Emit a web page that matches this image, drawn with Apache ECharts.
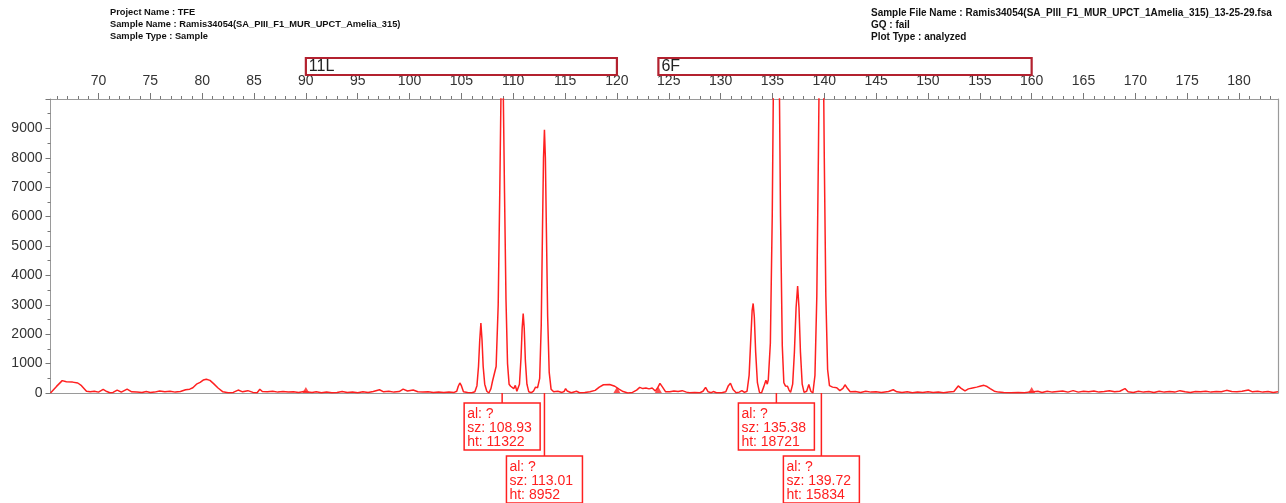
<!DOCTYPE html>
<html>
<head>
<meta charset="utf-8">
<script src="https://cdn.jsdelivr.net/npm/echarts@6.0.0/dist/echarts.min.js"></script>
<style>
  html, body { margin: 0; padding: 0; background: #fff; }
  #chart { width: 1286px; height: 503px; }
</style>
</head>
<body>
<div id="chart"></div>
<script>
// header texts
const headerLeft = ['Project Name : TFE', 'Sample Name : Ramis34054(SA_PIII_F1_MUR_UPCT_Amelia_315)', 'Sample Type : Sample']
const headerRight = ['Sample File Name : Ramis34054(SA_PIII_F1_MUR_UPCT_1Amelia_315)_13-25-29.fsa', 'GQ : fail', 'Plot Type : analyzed']

// axis
const sizeMin = 65.37
const sizeMax = 183.76
const sizeTicks = [70, 75, 80, 85, 90, 95, 100, 105, 110, 115, 120, 125, 130, 135, 140, 145, 150, 155, 160, 165, 170, 175, 180]
const heightMax = 10000

// bins
const binName = ['11L', '6F']
const binStart = [90, 124]
const binEnd = [120, 160]

// called peaks
const calledSize = [108.93, 113.01, 135.38, 139.72]
const calledHeight = [11322, 8952, 18721, 15834]
const calledAllele = ['?', '?', '?', '?']

// trace [size, height]
const traceLeft = [
  [65.37, 0], [65.5, 0], [65.95, 225], [66.5, 420], [66.9, 380], [67.5, 370], [68.0, 340], [68.36, 250], [68.84, 60],
  [69.2, 40], [69.6, 60], [70.0, 30], [70.45, 120], [70.8, 50], [71.1, 10], [71.4, 20], [71.8, 100], [72.2, 30],
  [72.76, 130], [73.2, 40], [73.7, 30], [74.2, 20], [74.6, 50], [75.0, 20], [75.4, 30], [75.9, 70], [76.4, 40],
  [76.9, 60], [77.4, 30], [77.9, 50], [78.4, 110], [78.8, 130], [79.1, 180], [79.45, 300], [79.8, 360], [80.1, 440],
  [80.4, 470], [80.75, 430], [81.1, 320], [81.53, 170], [82.0, 40], [82.5, 10], [83.0, 20], [83.47, 100], [83.9, 40],
  [84.4, 80], [84.9, 20], [85.3, 10], [85.56, 130], [85.8, 50], [86.3, 40], [86.8, 60], [87.3, 30], [87.8, 50],
  [88.3, 30], [88.8, 40], [89.3, 20], [89.8, 50], [90.2, 30], [90.6, 20], [91.0, 40], [91.5, 10], [92.0, 30],
  [92.5, 10], [93.0, 20], [93.5, 50], [94.0, 20], [94.5, 30], [95.0, 10], [95.5, 40], [96.0, 20], [96.5, 50],
  [97.1, 110], [97.5, 40], [98.0, 60], [98.5, 30], [99.0, 50], [99.38, 130], [99.8, 70], [100.35, 100], [100.8, 40],
  [101.3, 30], [101.8, 40], [102.3, 20], [102.8, 30], [103.3, 20], [103.8, 30], [104.3, 20], [104.55, 60],
  [104.7, 230], [104.85, 340], [105.0, 250], [105.2, 40], [105.6, 20], [106.0, 10]
]
const trace11L = [
  [106.3, 40], [106.5, 250], [106.65, 900], [106.77, 1800], [106.88, 2380], [106.99, 1800], [107.1, 900], [107.25, 300],
  [107.45, 60], [107.65, 0], [107.85, 150], [108.0, 400], [108.15, 450],
  [108.35, 900], [108.55, 3000], [108.7, 6800], [108.82, 10200], [108.93, 11322], [109.04, 10200], [109.16, 6800],
  [109.3, 3200], [109.45, 1000], [109.6, 300], [109.75, 230], [109.9, 260], [110.05, 150], [110.2, 260], [110.35, 60],
  [110.5, 20], [110.6, 300], [110.75, 1200], [110.86, 2200], [110.96, 2700], [111.06, 2200], [111.17, 1100],
  [111.32, 300], [111.5, 40], [111.75, 10], [111.95, 60], [112.15, 200], [112.35, 180], [112.45, 230],
  [112.55, 500], [112.7, 2300], [112.82, 5500], [112.92, 8000], [113.01, 8952], [113.1, 8000], [113.2, 5500],
  [113.32, 2600], [113.47, 700], [113.65, 130], [113.9, 40]
]
const traceGap = [
  [114.3, 60], [114.7, 20], [114.9, 50], [115.05, 150], [115.2, 70], [115.6, 10], [116.1, 60], [116.4, 10],
  [116.9, 20], [117.4, 40], [117.9, 90], [118.3, 200], [118.7, 280], [119.3, 290], [119.8, 230], [120.2, 130],
  [120.6, 50], [121.05, 0], [121.5, 20], [121.9, 100], [122.2, 190], [122.5, 150], [122.8, 170], [123.1, 140],
  [123.4, 170], [123.7, 70], [123.9, 160], [124.15, 330], [124.4, 200], [124.7, 40], [125.1, 40], [125.5, 70],
  [125.9, 50], [126.3, 80], [126.7, 30], [127.0, 10], [127.5, 20], [128.0, 10], [128.3, 60], [128.55, 190],
  [128.8, 40], [129.1, 10], [129.3, 50], [129.6, 10], [130.1, 10], [130.5, 40], [130.75, 250], [130.95, 330],
  [131.2, 120], [131.5, 10], [131.8, 30], [132.05, 80], [132.3, 20]
]
const trace6F = [
  [132.55, 60], [132.75, 600], [132.92, 1900], [133.04, 2800], [133.14, 3045], [133.25, 2600], [133.38, 1400],
  [133.55, 350], [133.75, 20], [133.95, 10], [134.15, 200], [134.37, 430], [134.5, 300], [134.6, 450],
  [134.8, 1700], [134.98, 6000], [135.13, 12000], [135.26, 17000], [135.38, 18721], [135.5, 17000], [135.63, 12000],
  [135.78, 6000], [135.95, 1600], [136.1, 350], [136.25, 240], [136.45, 230], [136.6, 100], [136.75, 20],
  [136.95, 300], [137.12, 1400], [137.28, 2900], [137.43, 3635], [137.56, 2900], [137.7, 1400], [137.87, 300],
  [138.05, 20], [138.3, 60], [138.51, 290], [138.7, 60], [138.9, 0],
  [139.1, 600], [139.28, 3300], [139.43, 8000], [139.58, 13500], [139.72, 15834], [139.86, 13500], [140.0, 8000],
  [140.15, 3300], [140.32, 800], [140.5, 250], [140.8, 200], [141.2, 180], [141.5, 80], [141.8, 160], [142.0, 280],
  [142.25, 150], [142.5, 40]
]
const traceRight = [
  [143.0, 50], [143.5, 20], [144.0, 60], [144.5, 30], [145.0, 40], [145.5, 20], [146.2, 50], [146.65, 110],
  [147.0, 40], [147.5, 20], [148.0, 40], [148.5, 10], [149.0, 30], [149.5, 20], [150.0, 40], [150.5, 20],
  [151.0, 30], [151.5, 10], [152.0, 30], [152.5, 50], [152.92, 240], [153.2, 160], [153.57, 70], [153.9, 140],
  [154.3, 170], [154.7, 200], [155.1, 240], [155.4, 260], [155.7, 220], [156.0, 150], [156.4, 60], [156.8, 30],
  [157.3, 20], [158.0, 10], [158.7, 20], [159.3, 10], [159.7, 30], [160.2, 40], [160.6, 60], [161.0, 20],
  [161.5, 60], [162.0, 30], [162.5, 50], [163.0, 70], [163.5, 30], [164.0, 80], [164.5, 30], [165.0, 60],
  [165.5, 40], [166.0, 70], [166.5, 30], [167.0, 50], [167.5, 80], [168.0, 40], [168.5, 60], [169.0, 150],
  [169.3, 40], [169.8, 20], [170.3, 60], [170.8, 30], [171.3, 50], [171.8, 20], [172.3, 60], [172.8, 30],
  [173.3, 50], [173.8, 30], [174.3, 80], [174.8, 40], [175.3, 20], [175.8, 50], [176.3, 40], [176.8, 60],
  [177.3, 30], [177.8, 50], [178.3, 40], [178.8, 90], [179.3, 50], [179.8, 40], [180.3, 60], [180.9, 100],
  [181.3, 40], [181.8, 60], [182.3, 30], [182.8, 50], [183.3, 20], [183.76, 40]
]

const trace = traceLeft.concat(trace11L, traceGap, trace6F, traceRight)
const binEdges = []
binStart.forEach((s, i) => { binEdges.push([s, 0], [binEnd[i], 0]) })
const minorTicks = []
for (let v = Math.ceil(sizeMin); v <= sizeMax; v++) minorTicks.push(v)

const FONT = '"Liberation Sans", Arial, sans-serif'
const RED = '#ff2020'
const AXIS_GRAY = '#9a9a9a'

const chart = echarts.init(document.getElementById('chart'))

const headerGraphics = []
headerLeft.forEach((t, i) => {
  headerGraphics.push({
    type: 'text', left: 110, top: 8 + i * 12,
    style: { text: t, fontSize: 9.3, fontWeight: 'bold', fontFamily: FONT, fill: '#111' }
  })
})
headerRight.forEach((t, i) => {
  headerGraphics.push({
    type: 'text', left: 871, top: 8 + i * 12,
    style: { text: t, fontSize: 10, fontWeight: 'bold', fontFamily: FONT, fill: '#111' }
  })
})

const option = {
  animation: false,
  backgroundColor: '#fff',
  graphic: headerGraphics,
  grid: { left: 50.5, top: 99, width: 1227.5, height: 294, containLabel: false },
  xAxis: [
    {
      type: 'value', position: 'top', min: sizeMin, max: sizeMax,
      axisLine: { show: true, onZero: false, lineStyle: { color: AXIS_GRAY, width: 1 } },
      axisTick: { show: true, length: 6, customValues: sizeTicks, lineStyle: { color: '#777' } },
      axisLabel: { customValues: sizeTicks, margin: 11, fontSize: 14, color: '#333', fontFamily: FONT },
      splitLine: { show: false }
    },
    {
      type: 'value', position: 'top', min: sizeMin, max: sizeMax,
      axisLine: { show: false, onZero: false },
      axisTick: { show: true, length: 3, customValues: minorTicks, lineStyle: { color: '#777' } },
      axisLabel: { show: false },
      splitLine: { show: false }
    },
    {
      type: 'value', position: 'bottom', min: sizeMin, max: sizeMax,
      axisLine: { show: true, onZero: false, lineStyle: { color: AXIS_GRAY, width: 1.2 } },
      axisTick: { show: false },
      axisLabel: { show: false },
      splitLine: { show: false }
    }
  ],
  yAxis: [
    {
      type: 'value', min: 0, max: heightMax, interval: 1000,
      axisLine: { show: true, onZero: false, lineStyle: { color: AXIS_GRAY, width: 1 } },
      axisTick: { show: true, length: 5, lineStyle: { color: '#777' } },
      minorTick: { show: true, splitNumber: 2, length: 3, lineStyle: { color: '#777' } },
      axisLabel: {
        showMaxLabel: false, margin: 8, fontSize: 14, color: '#333', fontFamily: FONT,
        formatter: v => String(v)
      },
      splitLine: { show: false }
    },
    {
      type: 'value', position: 'right', min: 0, max: heightMax,
      axisLine: { show: true, onZero: false, lineStyle: { color: AXIS_GRAY, width: 1.2 } },
      axisTick: { show: false },
      axisLabel: { show: false },
      splitLine: { show: false }
    }
  ],
  series: [
    {
      type: 'line',
      data: trace,
      showSymbol: false,
      symbol: 'none',
      clip: true,
      lineStyle: { color: RED, width: 1.5 },
      z: 3
    },
    {
      type: 'scatter',
      data: binEdges,
      symbol: 'triangle',
      symbolSize: [7, 6],
      symbolOffset: [0, -3],
      itemStyle: { color: RED },
      clip: false,
      z: 4
    },
    {
      // bin boxes above the axis
      type: 'custom',
      data: binName.map((n, i) => [binStart[i], binEnd[i], i]),
      renderItem: (params, api) => {
        const i = api.value(2)
        const p1 = api.coord([api.value(0), 0])
        const p2 = api.coord([api.value(1), 0])
        return {
          type: 'group',
          children: [
            {
              type: 'rect',
              shape: { x: p1[0], y: 58, width: p2[0] - p1[0], height: 17 },
              style: { fill: '#fff', stroke: '#b3212f', lineWidth: 2.2 }
            },
            {
              type: 'text',
              x: p1[0] + 3, y: 66.5,
              style: { text: binName[i], fontSize: 16, fontFamily: FONT, fill: '#222', verticalAlign: 'middle' }
            }
          ]
        }
      },
      z: 5
    },
    {
      // called peak labels below the baseline
      type: 'custom',
      data: calledSize.map((s, i) => [s, 0, i]),
      renderItem: (params, api) => {
        const i = api.value(2)
        const p = api.coord([api.value(0), 0])
        const boxTop = p[1] + (i % 2 === 0 ? 10 : 63)
        const boxLeft = p[0] - 38
        return {
          type: 'group',
          children: [
            {
              type: 'line',
              shape: { x1: p[0], y1: p[1], x2: p[0], y2: boxTop },
              style: { stroke: RED, lineWidth: 1.5 }
            },
            {
              type: 'rect',
              shape: { x: boxLeft, y: boxTop, width: 76, height: 47 },
              style: { fill: '#fff', stroke: RED, lineWidth: 1.5 }
            },
            {
              type: 'text',
              x: boxLeft + 3, y: boxTop + 4,
              style: {
                text: 'al: ' + calledAllele[i] + '\nsz: ' + calledSize[i].toFixed(2) + '\nht: ' + calledHeight[i],
                fontSize: 14, lineHeight: 14, fontFamily: FONT, fill: RED
              }
            }
          ]
        }
      },
      z: 5
    }
  ]
}

chart.setOption(option)
</script>
</body>
</html>
